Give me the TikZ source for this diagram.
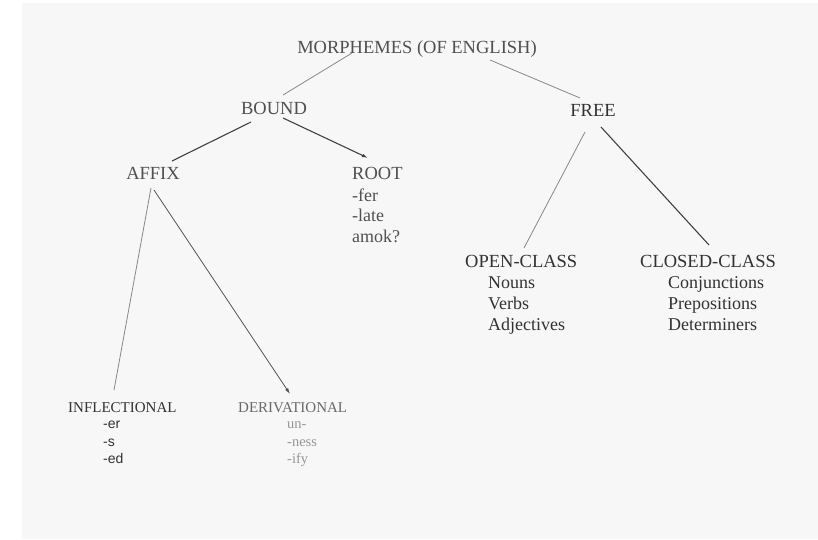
\documentclass[tikz,border=0pt]{standalone}
\usepackage{fontspec}
\setmainfont{Liberation Serif}
\newfontfamily\itemsans{Liberation Sans}
\usepackage{tikz}
\usetikzlibrary{arrows.meta,positioning}
\usepackage{xcolor}
\definecolor{paper}{RGB}{247,247,247}
\definecolor{inkdark}{RGB}{50,50,50}
\definecolor{inkmid}{RGB}{80,80,80}
\definecolor{inkfade}{RGB}{105,105,105}
\definecolor{inklight}{RGB}{150,150,150}
\definecolor{linedark}{RGB}{65,65,65}
\definecolor{linelight}{RGB}{135,135,135}
\tikzset{
  head/.style={inner sep=0pt,font=\fontsize{18.5}{20}\selectfont,text=inkdark},
  subhead/.style={inner sep=0pt,font=\fontsize{15}{17}\selectfont,text=inkdark},
  item/.style={inner sep=0pt,anchor=base west,font=\fontsize{18}{20}\selectfont,text=inkdark},
  smallitem/.style={inner sep=0pt,anchor=base west,font=\itemsans\fontsize{14}{16}\selectfont,text=inkdark},
  fadeitem/.style={inner sep=0pt,anchor=base west,font=\fontsize{14.5}{16}\selectfont,text=inklight},
  branch/.style={draw=linelight,line width=0.8pt},
  strong/.style={draw=linedark,line width=1.1pt},
  arrow/.style={-{Latex[length=6pt,width=3.5pt]}}
}
\begin{document}
\begin{tikzpicture}[x=1pt,y=-1pt]
\useasboundingbox (0,0) rectangle (818,539);
\fill[paper] (22,3) rectangle (818,539);
% headings
\node[head,anchor=base,text=inkmid] (morph) at (417,53) {MORPHEMES (OF ENGLISH)};
\node[head,anchor=base,text=inkmid] (bound) at (274,114) {BOUND};
\node[head,anchor=base] (free) at (593,116) {FREE};
\node[head,anchor=base,text=inkmid] (affix) at (153,179) {AFFIX};
\node[head,anchor=base west,text=inkmid] (root) at (352,179) {ROOT};
\node[head,anchor=base west] (open) at (465,267) {OPEN-CLASS};
\node[head,anchor=base west] (closed) at (640,267) {CLOSED-CLASS};
\node[subhead,anchor=base west] (infl) at (68,412) {INFLECTIONAL};
\node[subhead,anchor=base west,text=inkfade] (deriv) at (238,412) {DERIVATIONAL};
% lists
\foreach \w [count=\i] in {-fer,-late,amok?}
  \node[item,text=inkmid] (rootitem\i) at ([yshift=-20.5pt*\i-1.5pt]root.base west) {\w};
\foreach \w [count=\i] in {Nouns,Verbs,Adjectives}
  \node[item] (openitem\i) at ([xshift=23pt,yshift=-21pt*\i]open.base west) {\w};
\foreach \w [count=\i] in {Conjunctions,Prepositions,Determiners}
  \node[item] (closeditem\i) at ([xshift=28pt,yshift=-21pt*\i]closed.base west) {\w};
\foreach \w [count=\i] in {-er,-s,-ed}
  \node[smallitem] (inflitem\i) at ([xshift=35pt,yshift=-17.5pt*\i+1pt]infl.base west) {\w};
\foreach \w [count=\i] in {un-,-ness,-ify}
  \node[fadeitem] (derivitem\i) at ([xshift=49pt,yshift=-17.5pt*\i+1pt]deriv.base west) {\w};
% branches
\draw[branch] ([xshift=-65pt]morph.base) -- ([xshift=9pt,yshift=19pt]bound.base);
\draw[branch] ([xshift=73pt,yshift=-7pt]morph.base) -- ([xshift=-13pt,yshift=18pt]free.base);
\draw[strong] ([xshift=-23pt,yshift=-8pt]bound.base) -- ([xshift=19pt,yshift=18pt]affix.base);
\draw[strong,arrow] ([xshift=9pt,yshift=-4pt]bound.base) -- ([xshift=16pt,yshift=21pt]root.base west);
\draw[branch] ([xshift=-8pt,yshift=-16pt]free.base) -- ([xshift=59pt,yshift=19pt]open.base west);
\draw[strong] ([xshift=8pt,yshift=-11pt]free.base) -- ([xshift=69pt,yshift=22pt]closed.base west);
\draw[branch] ([xshift=-2pt,yshift=-9pt]affix.base) -- ([xshift=46pt,yshift=22pt]infl.base west);
\draw[branch,draw=inkmid,arrow] ([xshift=1pt,yshift=-11pt]affix.base) -- ([xshift=52pt,yshift=18pt]deriv.base west);
\end{tikzpicture}
\end{document}
